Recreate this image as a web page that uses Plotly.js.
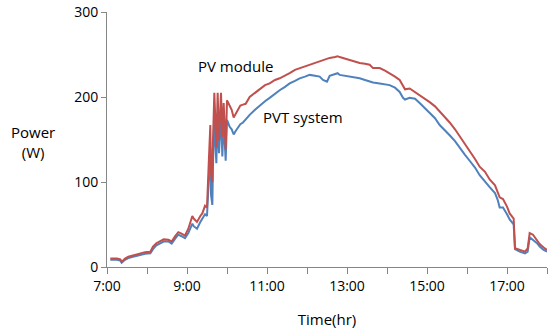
<!DOCTYPE html>
<html>
<head>
<meta charset="utf-8">
<script src="https://cdn.plot.ly/plotly-3.0.1.min.js"></script>
<style>html,body{margin:0;padding:0;background:#fff}#chart{width:548px;height:335px}</style>
</head>
<body>
<div id="chart"></div>
<script>
// Time of day (hh:mm)
const times = ["7:05","7:09","7:15","7:20","7:22","7:27","7:32","7:39","7:47","7:52","7:57","8:05","8:09","8:14","8:20","8:25","8:32","8:37","8:42","8:47","8:51","8:57","9:02","9:08","9:10","9:15","9:20","9:23","9:27","9:30","9:33","9:35","9:36","9:38","9:39","9:41","9:44","9:46","9:48","9:51","9:53","9:55","9:58","10:00","10:02","10:04","10:07","10:10","10:13","10:16","10:20","10:24","10:28","10:34","10:42","10:49","10:57","11:04","11:12","11:19","11:27","11:34","11:42","11:49","11:57","12:04","12:12","12:19","12:24","12:30","12:34","12:42","12:46","12:49","12:57","13:04","13:12","13:19","13:27","13:34","13:39","13:49","13:57","14:04","14:12","14:19","14:24","14:27","14:34","14:42","14:49","14:57","15:04","15:12","15:19","15:27","15:34","15:42","15:49","15:57","16:04","16:12","16:19","16:27","16:34","16:42","16:46","16:49","16:54","17:00","17:04","17:09","17:10","17:12","17:19","17:27","17:31","17:34","17:39","17:45","17:49","17:55","18:00"];
// PV module power (W)
const pvModule = [10,10,10,9,6,10,12,13.5,15,16,17.5,18,24,28,31,32.5,32,30,36,41,39.5,37,45,60,57,53,60,63,72,70,130,167,110,100,150,205,141,205,149,205,153,193,138,196,193,190,185,176,180,185,190,191,192,200,205,210,214,216,220,222,225,228,232,234,236,238,240,242,244,245,246,247,248,247,245,243,241,240,239,238,234,234,231,228,224,220,212,209,210,206,202,198,194,189,183,177,170,162,154,144,136,127,118,112,103,96,88,82,80,71,63,58,57,22,20,18,22,40,38,32,27,23,20];
// PVT system power (W)
const pvtSystem = [8.5,8.5,8.5,7.5,5,8.5,10.5,12,13.5,14,15.5,16,21,25.5,28,30,30,27.5,33,38,36.5,34,40,51,48,45,53,57,62,60,100,140,85,73,120,175,122,178,134,180,130,173,125,173,169,165,162,156,160,163,168,170,174,179,185,190,195,199,204,208,212,216,219,222,224,226,225,224,220,218,225,227,228,226,225,224,223,222,220,218,217,216,215,214,211,206,199,197,199,198,193,187,182,175,167,161,155,148,140,132,125,117,108,100,94,87,79,70,70,62,56,51,50,21,18,16,18,35,32,28,24,20,18];
const tickHours = [7,8,9,10,11,12,13,14,15,16,17,18];
const tickLabels = ["7:00","","9:00","","11:00","","13:00","","15:00","","17:00",""];
const yTicks = [0,100,200,300];

function toHours(t){const p=t.split(":");return +p[0]+(+p[1])/60;}
const x = times.map(toHours);
const FONT = "Open Sans, Noto Sans, sans-serif";

const traces = [
  {x:x, y:pvtSystem, type:"scatter", mode:"lines", name:"PVT system",
   line:{color:"#4F81BD", width:2}},
  {x:x, y:pvModule, type:"scatter", mode:"lines", name:"PV module",
   line:{color:"#C0504D", width:2}}
];

const layout = {
  width:548, height:335,
  margin:{l:107, r:1, t:12, b:68},
  paper_bgcolor:"#fff", plot_bgcolor:"#fff",
  showlegend:false,
  font:{family:FONT, size:14, color:"#000"},
  xaxis:{range:[7,18], tickmode:"array", tickvals:tickHours, ticktext:tickLabels,
    ticks:"outside", ticklen:6, tickcolor:"#868686", showgrid:false, zeroline:false,
    showline:true, linecolor:"#868686", linewidth:1,
    tickfont:{family:FONT, size:14},
    title:{text:"Time(hr)", font:{family:FONT, size:15}, standoff:20}},
  yaxis:{range:[0,300], tickmode:"array", tickvals:yTicks,
    ticks:"outside", ticklen:5, tickcolor:"#868686", showgrid:false, zeroline:false,
    showline:true, linecolor:"#868686", linewidth:1,
    tickfont:{family:FONT, size:14}},
  annotations:[
    {xref:"paper", yref:"paper", x:-0.168, y:0.49, xanchor:"center", yanchor:"middle",
     text:"Power<br>(W)", showarrow:false, font:{family:FONT, size:15}, align:"center"},
    {xref:"x", yref:"y", x:9.22, y:237, xanchor:"left", text:"PV module", showarrow:false,
     font:{family:FONT, size:15}},
    {xref:"x", yref:"y", x:10.85, y:177, xanchor:"left", text:"PVT system", showarrow:false,
     font:{family:FONT, size:15}}
  ]
};

Plotly.newPlot("chart", traces, layout, {displayModeBar:false, staticPlot:true});
</script>
</body>
</html>
